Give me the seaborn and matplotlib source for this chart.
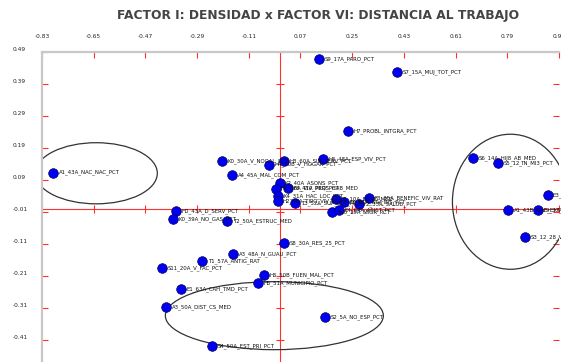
import numpy as np
import pandas as pd
import seaborn as sns
import matplotlib.pyplot as plt
from matplotlib import font_manager
from matplotlib.patches import Ellipse

# factor scores (factor I on x, factor VI on y)
point_labels = [
    "S9_17A_PARO_PCT", "S7_15A_MUJ_TOT_PCT", "H7_PROBL_INTGRA_PCT",
    "A1_43A_NAC_NAC_PCT", "K0_30A_V_NOGAL_PCT", "H4_30B_V_HOGAR_PCT",
    "H3_60A_SIN_SERV_PCT", "H6_48A_ESP_VIV_PCT", "A4_45A_MAL_COM_PCT",
    "K2_40A_ASONS_PCT", "H1_46A_VIV_PRQ_PCT", "F8_41A_PERS_HAB_MED",
    "K4_31A_HAC_LOC_PCT", "H2_44A_TIPO_VIV_PCT", "T3_52A_SUP_LOT_MED",
    "S1_10A_EDAD_MED", "E2_61A_NIV_INS_PCT", "F2_33A_SALUD_PCT",
    "F3_35A_BENEFIC_VIV_RAT", "S10_19A_MIGR_PCT", "E4_64A_ASIST_PCT",
    "H0_43A_D_SERV_PCT", "K0_39A_NO_GAS_PCT", "T2_50A_ESTRUC_MED",
    "S8_30A_RES_25_PCT", "A3_48A_N_GUAU_PCT", "T1_57A_ANTIG_RAT",
    "S11_20A_V_FAC_PCT", "H6_50B_FUEN_MAL_PCT", "H5_51A_MUNICIPIO_PCT",
    "E1_63A_CAH_TMD_PCT", "A3_50A_DIST_CS_MED", "S2_5A_NO_ESP_PCT",
    "S4_50A_EST_PRI_PCT", "S6_14A_HIJ8_AB_MED", "S5_12_IN_MI3_PCT",
    "E3_62A_ALFAB_PCT", "A1_43B_NAC_EXT_PCT", "F9_37A_BENEFIC_PCT",
    "S3_12_28_V_EDAD_PCT",
]
factor1 = [
    0.136, 0.407, 0.237, -0.790, -0.202, -0.038, 0.014, 0.150, -0.167,
    -0.003, -0.017, 0.028, -0.007, -0.010, 0.052, 0.192, 0.223, 0.272,
    0.310, 0.181, 0.205, -0.362, -0.373, -0.185, 0.014, -0.164, -0.272,
    -0.411, -0.056, -0.077, -0.345, -0.397, 0.157, -0.237, 0.672, 0.759,
    0.930, 0.794, 0.898, 0.853,
]
factor6 = [
    0.469, 0.428, 0.244, 0.113, 0.150, 0.138, 0.150, 0.156, 0.106,
    0.081, 0.063, 0.066, 0.041, 0.025, 0.019, 0.031, 0.022, 0.016,
    0.034, -0.009, -0.003, -0.006, -0.031, -0.038, -0.106, -0.141, -0.163,
    -0.184, -0.206, -0.231, -0.250, -0.306, -0.338, -0.428, 0.159, 0.144,
    0.044, -0.003, -0.003, -0.088,
]

x_ticks = [-0.83, -0.65, -0.47, -0.29, -0.11, 0.07, 0.25, 0.43, 0.61, 0.79, 0.97]
y_ticks = [0.49, 0.39, 0.29, 0.19, 0.09, -0.01, -0.11, -0.21, -0.31, -0.41]

# groups circled by hand: centre x, centre y, width, height
group_x = [-0.641, -0.021, 0.801]
group_y = [0.111, -0.334, 0.022]
group_w = [0.425, 0.759, 0.404]
group_h = [0.191, 0.2125, 0.422]

df = pd.DataFrame({"label": point_labels, "f1": factor1, "f6": factor6})

sns.set_style("white")
installed = {f.name for f in font_manager.fontManager.ttflist}
narrow = "Liberation Sans Narrow" if "Liberation Sans Narrow" in installed else "DejaVu Sans"
plt.rcParams["font.family"] = [narrow, "DejaVu Sans"]

fig = plt.figure(figsize=(5.61, 3.62), dpi=100)
ax = fig.add_axes([42 / 561, -0.0276, 517 / 561, 0.884])

red = "#ff3030"
ax.axhline(0, color=red, lw=0.8, zorder=1)
ax.axvline(0, color=red, lw=0.8, zorder=1)
# small crossing ticks along the two zero axes
ax.scatter(x_ticks, np.zeros(len(x_ticks)), marker="|", s=40, color=red, lw=0.8, zorder=1)
ax.scatter(np.zeros(len(y_ticks)), y_ticks, marker="_", s=40, color=red, lw=0.8, zorder=1)

sns.scatterplot(data=df, x="f1", y="f6", ax=ax, color="#0000f0",
                edgecolor="#000060", linewidth=0.5, s=48, zorder=3, legend=False)

for _, row in df.iterrows():
    ax.annotate(row["label"], (row["f1"], row["f6"]), xytext=(3.8, 0),
                textcoords="offset points", fontsize=3.9, va="center",
                ha="left", color="#111111", zorder=4)

for cx, cy, w, h in zip(group_x, group_y, group_w, group_h):
    ax.add_patch(Ellipse((cx, cy), w, h, fill=False, edgecolor="#333333",
                         lw=0.9, zorder=2))

ax.set_xlim(-0.83, 0.97)
ax.set_ylim(-0.51, 0.49)
ax.set_xticks(x_ticks)
ax.set_yticks(y_ticks)
ax.set_xticklabels([f"{v:.2f}" for v in x_ticks])
ax.set_yticklabels([f"{v:.2f}" for v in y_ticks])
ax.xaxis.tick_top()
ax.tick_params(axis="x", which="both", direction="in", length=4, width=0.8,
               color=red, labelsize=4.2, pad=9, top=True, bottom=False)
ax.tick_params(axis="y", which="both", direction="in", length=4, width=0.8,
               color=red, labelsize=4.2, pad=21, left=True, right=True)
for lab in ax.get_yticklabels():
    lab.set_ha("left")
    lab.set_va("bottom")
ax.set_xlabel("")
ax.set_ylabel("")

for side in ["right", "bottom"]:
    ax.spines[side].set_visible(False)
for side in ["left", "top"]:
    ax.spines[side].set_color("#c8c8c8")
    ax.spines[side].set_linewidth(1.6)

fig.text(0.567, 0.958, "FACTOR I: DENSIDAD x FACTOR VI: DISTANCIA AL TRABAJO",
         ha="center", va="center", fontsize=8.8, fontweight="heavy",
         color="#444444", family="DejaVu Sans")

fig.savefig("out.png", dpi=100)
